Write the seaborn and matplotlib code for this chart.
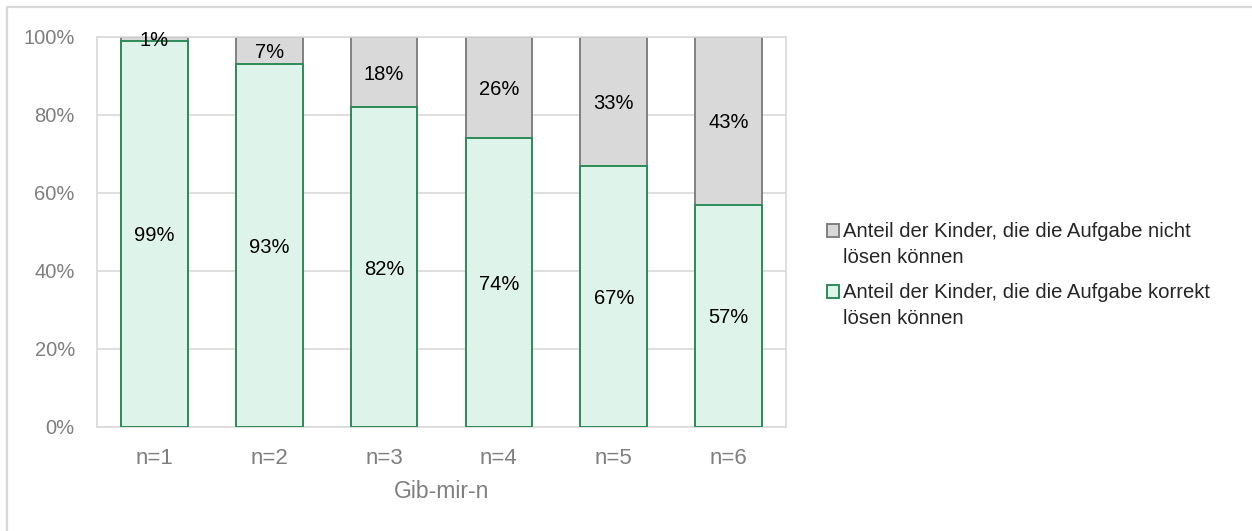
import matplotlib
matplotlib.use("Agg")
import matplotlib.pyplot as plt
import seaborn as sns
import pandas as pd
from matplotlib.patches import Patch, Rectangle
from matplotlib.lines import Line2D
from matplotlib.legend_handler import HandlerPatch

categories = ["n=1", "n=2", "n=3", "n=4", "n=5", "n=6"]
korrekt = [99, 93, 82, 74, 67, 57]
nicht = [1, 7, 18, 26, 33, 43]
y_ticks = [0, 20, 40, 60, 80, 100]
x_title = "Gib-mir-n"
label_nicht = "Anteil der Kinder, die die Aufgabe nicht\nlösen können"
label_korrekt = "Anteil der Kinder, die die Aufgabe korrekt\nlösen können"

GREEN_FILL = "#DEF3E9"
GREEN_EDGE = "#2E8B5A"
GREY_FILL = "#D9D9D9"
GREY_EDGE = "#808080"
TICK_GREY = "#7F7F7F"
FRAME_GREY = "#D9D9D9"

sns.set_theme(style="white")
plt.rcParams["font.family"] = ["Liberation Sans", "DejaVu Sans"]

df = pd.DataFrame({"cat": categories, "korrekt": korrekt, "nicht": nicht})
df["gesamt"] = df["korrekt"] + df["nicht"]

fig = plt.figure(figsize=(12.52, 5.31), dpi=100)
ax = fig.add_axes([97 / 1252, 1 - 427 / 531, (786 - 97) / 1252, (427 - 37) / 531])

# upper segment: full stack height, lower segment drawn over it
sns.barplot(data=df, x="cat", y="gesamt", ax=ax, color=GREY_FILL, width=0.58,
            edgecolor=GREY_EDGE, linewidth=1.4, saturation=1, zorder=2)
sns.barplot(data=df, x="cat", y="korrekt", ax=ax, color=GREEN_FILL, width=0.58,
            edgecolor=GREEN_EDGE, linewidth=1.4, saturation=1, zorder=3)

for i, (k, n) in enumerate(zip(korrekt, nicht)):
    ax.text(i, k / 2, f"{k}%", ha="center", va="center_baseline", fontsize=14.5,
            color="black", zorder=5)
    ax.text(i, k + n / 2, f"{n}%", ha="center", va="center_baseline", fontsize=14.5,
            color="black", zorder=5)

ax.set_xlim(-0.5, 5.5)
ax.set_ylim(0, 100)
ax.set_yticks(y_ticks)
ax.set_yticklabels([f"{t}%" for t in y_ticks])
ax.grid(axis="y", color=FRAME_GREY, linewidth=1.2, zorder=0)
ax.set_axisbelow(True)
for side in ["left", "right", "top", "bottom"]:
    ax.spines[side].set_visible(True)
    ax.spines[side].set_color(FRAME_GREY)
    ax.spines[side].set_linewidth(1.2)
ax.tick_params(axis="both", length=0, labelcolor=TICK_GREY)
ax.tick_params(axis="x", pad=15, labelsize=16)
ax.tick_params(axis="y", pad=16, labelsize=14.5)
ax.set_xlabel(x_title, fontsize=16.5, color=TICK_GREY, labelpad=8)
ax.set_ylabel("")


def top_line_square(legend, orig_handle, xdescent, ydescent, width, height, fontsize):
    # keep the legend square level with the first line of a two-line label
    return Rectangle((-xdescent, -ydescent + 0.68 * fontsize), width, height)


handles = [
    Patch(facecolor=GREY_FILL, edgecolor=GREY_EDGE, linewidth=1.4, label=label_nicht),
    Patch(facecolor=GREEN_FILL, edgecolor=GREEN_EDGE, linewidth=1.4, label=label_korrekt),
]
leg = fig.legend(handles=handles, loc="upper left", bbox_to_anchor=(827 / 1252, 1 - 222 / 531),
                 frameon=False, fontsize=14.6, handlelength=0.6, handleheight=0.6,
                 handletextpad=0.2, labelspacing=0.8, borderaxespad=0, borderpad=0,
                 handler_map={Patch: HandlerPatch(patch_func=top_line_square)})
for t in leg.get_texts():
    t.set_linespacing(1.45)

# outer chart frame (top and left edges)
fig.add_artist(Line2D([7 / 1252, 1.0], [1 - 7 / 531, 1 - 7 / 531], color=FRAME_GREY,
                      linewidth=1.6, transform=fig.transFigure))
fig.add_artist(Line2D([7 / 1252, 7 / 1252], [0.0, 1 - 7 / 531], color=FRAME_GREY,
                      linewidth=1.6, transform=fig.transFigure))

fig.savefig("out.png", dpi=100, facecolor="white")
